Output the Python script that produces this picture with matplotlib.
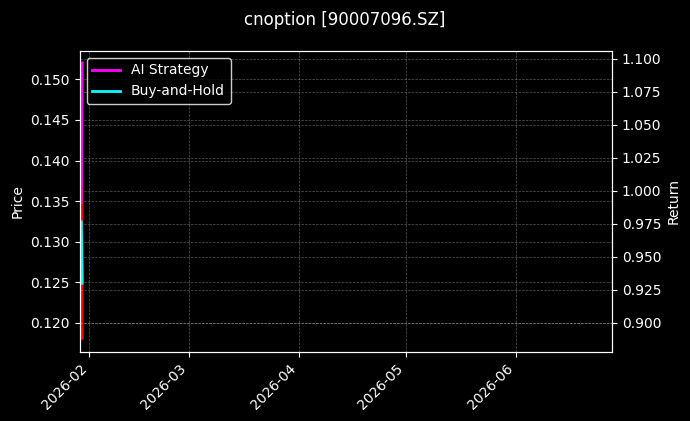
import pandas as pd
import matplotlib.pyplot as plt
import matplotlib.dates as mdates
import matplotlib.ticker as mticker

# values
dates = pd.to_datetime(["2026-01-29 18:00", "2026-01-30 00:00"])
price = [0.1519, 0.1181]
ai_strategy = [0.991, 1.097]
buy_hold = [0.9765, 0.930]

x_range = pd.to_datetime(["2026-01-29 07:00", "2026-06-28 00:00"])

plt.style.use("dark_background")
fig, ax1 = plt.subplots(figsize=(6.9, 4.21), dpi=100)
fig.subplots_adjust(left=0.1155, right=0.887, top=0.879, bottom=0.164)

ax1.plot(dates, price, color="red", linewidth=2)
ax1.set_ylabel("Price")
ax1.set_ylim(0.11642, 0.1535)
ax1.grid(True, linestyle="--", linewidth=0.5, alpha=0.35)

ax2 = ax1.twinx()
ax2.plot(dates, ai_strategy, color="magenta", linewidth=2, label="AI Strategy")
ax2.plot(dates, buy_hold, color="cyan", linewidth=2, label="Buy-and-Hold")
ax2.set_ylabel("Return")
ax2.set_ylim(0.878, 1.106)
ax2.yaxis.set_major_locator(mticker.MultipleLocator(0.025))
ax2.yaxis.set_major_formatter(mticker.FormatStrFormatter("%.3f"))
ax2.grid(True, linestyle="--", linewidth=0.5, alpha=0.35)

ax1.set_xlim(x_range[0], x_range[1])
ax1.xaxis.set_major_locator(mdates.MonthLocator())
ax1.xaxis.set_major_formatter(mdates.DateFormatter("%Y-%m"))
plt.setp(ax1.get_xticklabels(), rotation=45, ha="right")

leg = ax2.legend(loc="upper left", facecolor="black", edgecolor="white")

fig.suptitle("cnoption [90007096.SZ]", fontsize=12, y=0.975)
fig.savefig("out.png", dpi=100)
